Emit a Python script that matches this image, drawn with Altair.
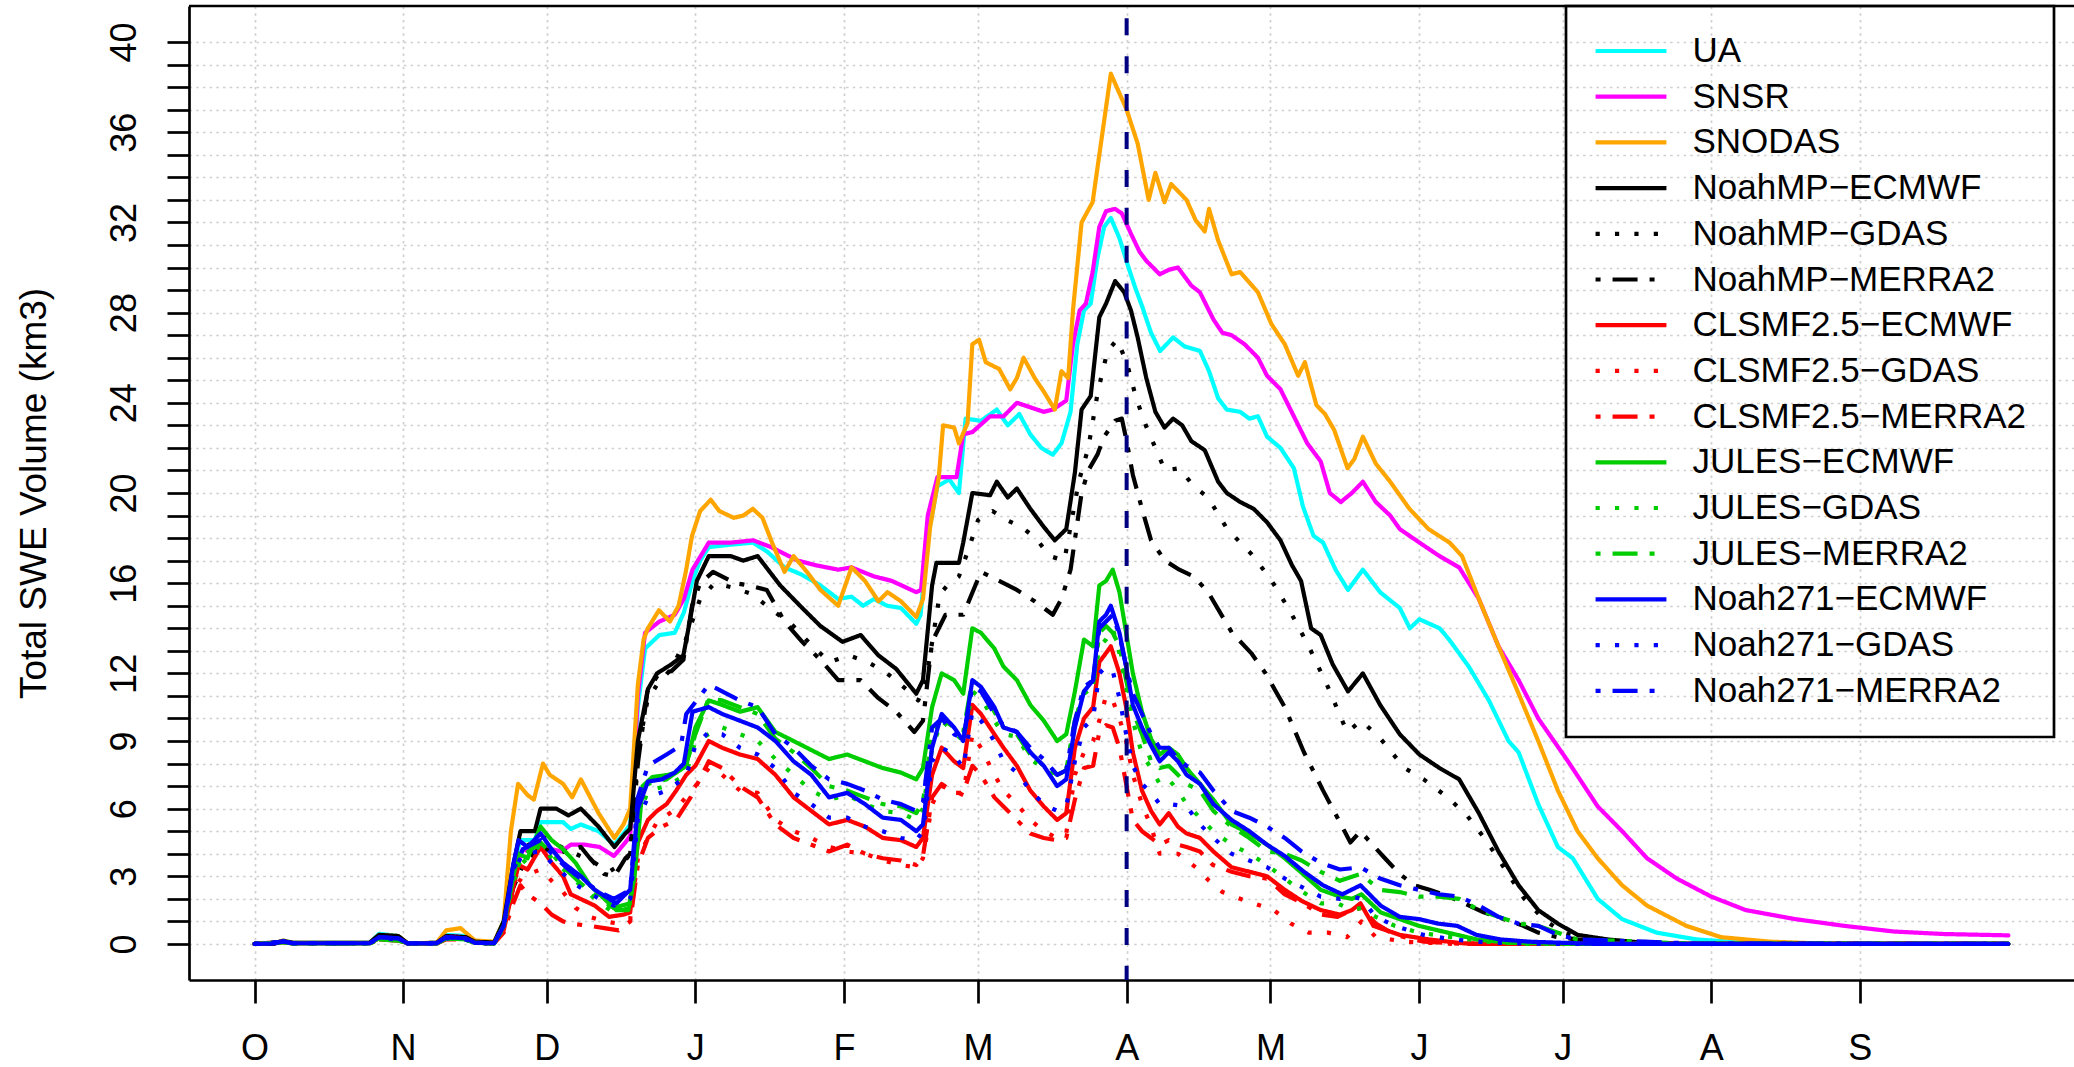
import altair as alt
import pandas as pd

# ---------------- data (day of water year, total SWE volume km3) ----------------
NAMES = ["UA", "SNSR", "SNODAS",
         "NoahMP−ECMWF", "NoahMP−GDAS", "NoahMP−MERRA2",
         "CLSMF2.5−ECMWF", "CLSMF2.5−GDAS", "CLSMF2.5−MERRA2",
         "JULES−ECMWF", "JULES−GDAS", "JULES−MERRA2",
         "Noah271−ECMWF", "Noah271−GDAS", "Noah271−MERRA2"]
COLORS = ["#00FFFF", "#FF00FF", "#FFA500",
          "#000000", "#000000", "#000000",
          "#FF0000", "#FF0000", "#FF0000",
          "#00CD00", "#00CD00", "#00CD00",
          "#0000FF", "#0000FF", "#0000FF"]
SOLID, DOT, DOTDASH = [1, 0], [4.2, 15.2], [5, 12, 25, 12]
DASHES = [SOLID, SOLID, SOLID] + [SOLID, DOT, DOTDASH] * 4

MONTH_DAYS = [0, 31, 61, 92, 123, 151, 182, 212, 243, 273, 304, 335]
MONTH_LABELS = ["O", "N", "D", "J", "F", "M", "A", "M", "J", "J", "A", "S"]
Y_LABELS = [0, 3, 6, 9, 12, 16, 20, 24, 28, 32, 36, 40]
PEAK_DAY = 182

UA = [(0,0),(4,0.02),(6,0.15),(8,0.05),(24,0.05),(26,0.45),(30,0.35),(32,0.02),(38,0.05),(40,0.4),(44,0.35),(46,0.1),(50,0.05),
      (52,1.0),(54,3.5),(55.5,4.6),(58.5,4.6),(59.7,5.4),(64.4,5.4),(66,5.1),(68.1,5.3),(71.8,5.0),(75.1,4.4),(77.4,5.0),(78.4,5.3),
      (80,10.5),(81.5,13.1),(84.5,13.7),(87.7,13.8),(89.6,14.7),(91.4,16.1),(93,17.0),(94.8,17.6),(99,17.7),(104,17.8),(107,17.4),
      (110.6,16.7),(114,16.4),(118.1,15.9),(121.8,15.3),(124.6,15.4),(127,15.0),(129.3,15.3),(132,15.0),(134.9,14.9),(138.1,14.2),(139,14.6),
      (140.5,18.0),(142.5,20.3),(145,20.6),(147,20.0),(148.4,23.3),(151.6,23.2),(154.9,23.7),(157.2,23.0),(159.6,23.5),(161.9,22.6),
      (164.2,22.0),(166.6,21.7),(168.4,22.2),(170.3,23.6),(171.7,26.6),(173.1,28.1),(174.5,28.4),(175.9,30.4),(177.3,31.8),(178.7,32.2),
      (180.5,31.3),(182.4,30.0),(183.8,29.1),(185.2,28.3),(187.1,27.1),(189,26.3),(191.7,26.9),(194.1,26.5),(197.3,26.3),(199.2,25.4),
      (201.1,24.2),(202.9,23.7),(205.7,23.6),(207.6,23.3),(209.4,23.4),(211.3,22.5),(214.1,22.0),(216.9,21.1),(218.8,19.4),(221,18.1),
      (223,17.8),(225.6,16.6),(228.2,15.7),(231.3,16.6),(234.9,15.6),(239,14.9),(241.1,14.0),(243.1,14.4),(247.3,14.0),(249.3,13.5),(253.4,12.3),
      (257.6,10.8),(261.7,9.0),(263.8,8.5),(267.9,6.2),(272,4.3),(275.1,3.8),(280.3,2.0),(285.4,1.1),(292.6,0.5),(300.9,0.2),(311,0.05),(330,0),(366,0)]

SNSR = [(0,0),(4,0.02),(6,0.1),(8,0.03),(24,0.03),(26,0.3),(30,0.25),(32,0.02),(38,0.03),(40,0.35),(44,0.3),(46,0.1),(50,0.05),
        (52,0.8),(54,3.0),(56,4.2),(58.5,4.0),(60,4.3),(64,4.1),(66,4.4),(69,4.4),(72,4.3),(75,3.9),(77.4,4.5),(78.4,4.8),
        (80,11.0),(81.5,13.8),(84.5,14.3),(87.7,14.6),(89.6,15.3),(91.4,16.6),(94.8,17.8),(99.4,17.8),(104.1,17.9),(107.8,17.6),(113.4,17.0),
        (117,16.8),(121.8,16.6),(124.6,16.7),(129.3,16.3),(133,16.1),(138.1,15.6),(139.1,15.7),
        (140.5,19.0),(142.5,20.7),(146.5,20.7),(147.9,22.6),(149.8,22.7),(153.5,23.4),(156.3,23.4),(159.1,24.0),(161.9,23.8),(164.7,23.6),
        (166.6,23.7),(169.4,24.1),(170.8,26.6),(172.2,28.1),(173.5,28.4),(174.9,29.8),(176.3,31.8),(177.7,32.5),(179.6,32.6),(181,32.4),
        (182.9,31.5),(184.7,30.7),(186.1,30.3),(188.9,29.7),(190.8,29.9),(192.7,30.0),(195.5,29.2),(197.3,28.9),(200.1,27.7),(202,27.1),
        (203.9,27.0),(206.6,26.6),(209.4,26.0),(211.3,25.2),(214.1,24.6),(216.9,23.4),(219.7,22.2),(222.5,21.4),(224.4,20.0),(226.7,19.6),
        (229,20.0),(231.3,20.5),(234,19.6),(237,19.0),(239,18.4),(243.1,17.8),(247.3,17.2),(251.4,16.7),(255.5,15.3),(259.6,13.2),
        (263.8,11.7),(267.9,10.0),(274.1,8.1),(280.3,6.1),(285.4,5.0),(290.6,3.8),(296.8,2.9),(304,2.1),(311.2,1.5),(321.5,1.1),
        (331.8,0.8),(342.1,0.55),(352.4,0.44),(366,0.38)]

SNODAS = [(0,0),(4,0.03),(6,0.15),(8,0.05),(24,0.05),(26,0.4),(30,0.35),(32,0.03),(38,0.05),(40,0.6),(43,0.7),(46,0.15),(50,0.1),
          (52,1.0),(53.5,5.0),(55,7.1),(57,6.6),(58.3,6.4),(60.2,8.0),(61.6,7.5),(64.4,7.1),(66.3,6.5),(68.1,7.3),(71.8,5.8),(75.1,4.7),
          (77,5.3),(78.4,6.0),(80,11.5),(81.2,13.5),(82.1,14.0),(84.4,14.8),(86.7,14.3),(88.5,15.0),(90,16.5),(91.3,18.1),(93,19.2),
          (95.2,19.7),(97,19.2),(100,18.9),(102,19.0),(104,19.3),(106,18.9),(108,17.8),(110.6,16.5),(112.5,17.2),(115.3,16.5),(118.1,15.7),
          (121.8,15.0),(124.6,16.7),(127.4,16.1),(130.2,15.2),(132.1,15.6),(134.9,15.2),(138.1,14.5),(139.5,15.3),(141,18.5),(142.8,20.7),
          (143.7,23.0),(146,22.9),(147,22.2),(148.8,23.1),(149.8,26.6),(151.2,26.8),(152.6,25.8),(155.4,25.5),(157.7,24.6),(159.1,25.1),
          (160.5,26.0),(162.8,25.1),(164.7,24.5),(167,23.7),(168.4,25.4),(169.8,25.1),(170.8,28.1),(172.6,32.0),(174.9,32.9),(178.7,38.6),
          (182,37.0),(184.3,35.5),(186.6,33.0),(188,34.2),(189.9,32.9),(191.3,33.7),(194.5,33.0),(196.4,32.1),(198.3,31.6),(199.2,32.6),
          (201.1,31.2),(203.9,29.7),(205.7,29.8),(209.4,28.9),(212.2,27.5),(215,26.6),(217.8,25.2),(219.2,25.8),(221.6,23.9),(223.4,23.5),
          (225.3,22.8),(228.1,21.1),(229.5,21.5),(231.3,22.5),(234,21.3),(237,20.5),(241,19.3),(245,18.4),(249.4,17.8),(252,17.2),
          (255.5,15.3),(259.6,13.2),(263.8,11.1),(267.9,9.0),(272,6.8),(276.1,5.0),(280.3,3.8),(285.4,2.6),(290.6,1.7),(298.8,0.8),
          (306,0.3),(316.3,0.1),(326.6,0.02),(366,0)]

NOAHMP_ECMWF = [(0,0),(4,0.02),(6,0.12),(8,0.05),(24,0.05),(26,0.4),(30,0.35),(32,0.02),(38,0.05),(40,0.35),(44,0.3),(46,0.1),(50,0.05),
                (52,1.0),(54,3.5),(55.5,5.0),(58.5,5.0),(59.7,6.0),(63,6.0),(65.5,5.7),(68.1,6.0),(71.8,5.2),(75.1,4.3),(77.4,4.9),(78.4,5.1),
                (80,9.0),(82.1,11.3),(84,12.0),(87,12.4),(89.5,12.8),(91,14.5),(92.3,16.1),(94.8,17.2),(99.4,17.2),(102,17.0),(105,17.2),
                (109.7,15.9),(114.3,14.9),(118.1,14.1),(122.7,13.4),(126.5,13.7),(130.2,12.8),(133.9,12.2),(138.1,11.1),(139.5,11.7),
                (141.4,15.9),(142.3,16.9),(147,16.9),(147.9,17.8),(149.8,20.0),(153.5,19.9),(154.9,20.5),(157.2,19.8),(159.1,20.2),
                (161.9,19.3),(164.7,18.5),(167,17.9),(169.4,18.4),(171.2,20.9),(172.6,23.7),(174.5,24.3),(176.3,27.8),(177.7,28.4),
                (179.6,29.4),(181.5,28.9),(182.9,28.1),(184.3,26.9),(186.1,25.1),(188,23.6),(189.9,22.9),(191.7,23.3),(193.6,23.0),
                (195.5,22.3),(198.3,21.9),(201.1,20.5),(202.9,20.0),(205.7,19.6),(208.5,19.3),(211.3,18.7),(214.1,17.9),(216.5,16.8),
                (218.4,16.1),(220.5,14.0),(222.5,13.7),(225,12.4),(228.2,11.2),(231.3,12.0),(234.9,10.6),(239,9.3),(243.1,8.4),(247.3,7.8),
                (251.4,7.3),(255.5,5.8),(259.6,4.1),(263.8,2.6),(267.9,1.5),(272,0.9),(276.1,0.4),(282.3,0.2),(290,0.05),(300,0),(366,0)]

NOAHMP_GDAS = [(0,0),(4,0.02),(6,0.1),(8,0.03),(24,0.03),(26,0.3),(30,0.25),(32,0.02),(38,0.03),(40,0.3),(44,0.3),(46,0.1),(50,0.05),
               (52,0.8),(54,3.0),(56,4.2),(59.7,4.8),(63,4.4),(67,4.0),(71,3.6),(74,3.2),(77,3.6),(78.4,4.0),(80,8.5),(82,10.8),(84,11.5),
               (87,12.2),(90,13.5),(93,15.3),(96,16.0),(100,15.8),(104,15.5),(108,14.8),(112,14.2),(116,13.3),(120,12.5),(124,12.8),
               (128,12.5),(132,12.0),(136,11.3),(138.5,10.8),(140,11.5),(141.5,13.5),(143,15.5),(145,16.0),(147,16.3),(149,17.5),
               (151,18.8),(154,19.2),(157,18.8),(160,18.5),(163,18.0),(166,17.2),(169,17.0),(172,20.5),(174,22.0),(176,24.5),(178,26.3),
               (180,26.8),(182,25.8),(184,24.2),(186,23.0),(188,22.0),(190,21.0),(193,21.1),(196,20.3),(199,19.8),(203,18.4),(208,17.3),
               (212,16.2),(216,14.8),(220,13.2),(224,11.4),(228,9.4),(231,9.9),(235,9.1),(240,7.8),(244,7.3),(249,6.5),(253,5.7),
               (257,4.6),(261,3.3),(265,2.0),(269,1.1),(273,0.5),(280,0.1),(290,0),(366,0)]

NOAHMP_MERRA2 = [(0,0),(4,0.02),(6,0.1),(8,0.03),(24,0.03),(26,0.3),(30,0.25),(32,0.02),(38,0.03),(40,0.3),(44,0.3),(46,0.1),(50,0.05),
                 (52,0.7),(54,2.5),(56,3.5),(59.7,4.3),(63,4.0),(68.1,4.3),(70,3.8),(73,3.1),(75.1,3.0),(77.4,3.8),(78.4,4.0),(80,8.0),
                 (82,11.2),(84.4,12.0),(87,12.1),(89.5,12.6),(91.3,15.0),(93,16.0),(95.7,16.5),(100.4,16.0),(103.2,15.9),(106.9,15.7),
                 (110.6,14.3),(114.3,13.4),(118.1,12.6),(121.8,11.7),(126.5,11.7),(130.2,10.9),(133.9,10.3),(137.7,9.4),(139.5,9.9),
                 (141.4,13.4),(144.2,14.6),(147.9,14.6),(151.6,16.5),(155.4,16.1),(159.1,15.7),(162.8,15.2),(166.6,14.6),(168.4,15.3),
                 (170.3,16.6),(172.6,20.0),(174,21.0),(175.9,21.7),(177.3,22.5),(179.6,23.2),(181,23.3),(182,22.3),(183.3,20.8),
                 (185.2,19.3),(187.1,17.9),(190,17.0),(193,16.6),(196,16.3),(199,15.6),(204,13.8),(208,12.9),(211,12.0),(215,10.5),
                 (219,8.5),(223,6.8),(226,5.6),(228.7,4.5),(230.8,5.0),(233.3,4.4),(235.9,3.8),(239,3.1),(242.1,2.6),(245.2,2.4),
                 (249.3,2.1),(252.4,1.8),(256.5,1.4),(260.7,1.1),(264.8,0.8),(267.9,0.5),(272,0.3),(280,0.1),(290,0),(366,0)]

CLSM_ECMWF = [(0,0),(6,0.1),(8,0.03),(24,0.03),(26,0.25),(30,0.2),(32,0.02),(38,0.03),(40,0.3),(44,0.25),(46,0.05),(50,0.03),
              (52,0.6),(54,2.5),(55.1,3.5),(57,3.3),(59.7,4.3),(62,3.6),(64.4,3.0),(66,2.2),(68,2.0),(71,1.7),(74,1.2),(77,1.3),(78.4,1.4),
              (80,4.5),(82.1,5.5),(84,5.9),(86,6.2),(88,6.8),(90.1,7.5),(92,7.9),(94.8,9.0),(97.6,8.7),(101.3,8.4),(105,8.2),(108.7,7.5),
              (112.5,6.5),(116.2,5.9),(119.9,5.3),(123.7,5.5),(127.4,5.2),(131.1,4.7),(134.9,4.6),(138.1,4.3),(139.5,4.7),(141.4,7.5),
              (143.4,8.7),(146,8.1),(147.9,7.8),(149.8,10.6),(151.6,10.2),(154.4,9.3),(156.3,8.7),(159.1,7.9),(161.9,6.8),(164.7,6.1),
              (167.5,5.5),(169.4,5.8),(171.2,8.7),(173.1,10.0),(175,10.5),(176.3,12.5),(177.7,12.9),(178.7,13.2),(180.5,12.0),(181.9,10.5),
              (183.3,8.5),(185.2,6.8),(187.1,5.9),(188.9,5.3),(190.8,5.8),(192.7,5.2),(194.5,4.9),(197.3,4.7),(200.1,4.1),(203.9,3.4),
              (207.6,3.2),(211.3,3.0),(215,2.4),(218.6,1.9),(222.5,1.5),(226.5,1.3),(229,1.5),(230.8,1.8),(233.5,0.8),(239,0.4),(245,0.2),
              (252,0.03),(260,0),(366,0)]

CLSM_GDAS = [(0,0),(6,0.08),(8,0.02),(24,0.02),(26,0.2),(30,0.15),(32,0.02),(38,0.02),(40,0.25),(44,0.2),(46,0.05),(50,0.02),
             (52,0.6),(54,2.4),(56,3.0),(59.7,3.3),(62,2.8),(64.4,2.3),(67,1.6),(70,1.2),(73,1.0),(76,0.9),(78.4,1.1),(80,3.8),(82.1,4.7),
             (84,5.4),(88,6.0),(92,7.0),(94.8,7.8),(97.6,7.5),(101.3,6.8),(105,6.7),(108.7,5.5),(112.5,5.0),(116.2,4.7),(119.9,4.3),
             (123.7,4.1),(127.4,4.0),(131.1,3.7),(134.9,3.5),(138.1,3.4),(139.5,3.8),(141.4,6.2),(143.4,7.0),(146,6.8),(147.9,6.6),
             (149.8,9.3),(151.6,8.7),(154.4,7.5),(156.3,6.8),(159.1,6.2),(161.9,5.5),(164.7,5.0),(167.5,4.7),(169.4,4.9),(171.2,7.5),
             (173.1,8.5),(175,9.0),(176.3,9.9),(177.7,11.0),(179.1,10.8),(180.5,10.0),(181.9,9.0),(183.3,7.5),(185.2,6.2),(187.1,5.2),
             (188.9,4.0),(192.7,4.0),(196.4,3.4),(199.2,2.8),(202,2.3),(205.7,2.0),(212.7,1.5),(216.3,0.9),(220,0.5),(224,0.5),(228,0.3),
             (231,1.0),(234,0.3),(240,0.1),(250,0),(366,0)]

CLSM_MERRA2 = [(0,0),(6,0.08),(8,0.02),(24,0.02),(26,0.2),(30,0.15),(32,0.02),(38,0.02),(40,0.2),(44,0.2),(46,0.05),(50,0.02),
               (52,0.5),(54,1.8),(55.5,2.6),(57,2.2),(59.7,1.8),(62,1.3),(64.4,1.0),(66,0.9),(70,0.8),(73,0.7),(76,0.6),(78.4,1.0),
               (80,3.5),(82.1,4.7),(85,5.2),(88,5.5),(91,6.5),(94.8,8.1),(97.6,7.8),(101.3,7.0),(105,6.5),(108.7,5.3),(112.5,4.7),
               (116.2,4.4),(119.9,4.1),(123.7,4.4),(127.4,4.0),(131.1,3.8),(134.9,3.7),(138.1,3.5),(139.5,3.9),(141.4,6.5),(143.4,7.1),
               (146,6.7),(147.9,6.7),(149.8,7.9),(151.6,7.5),(154.4,6.5),(156.3,6.1),(159.1,5.5),(161.9,4.9),(164.7,4.7),(167.5,4.6),
               (169.4,4.7),(171.2,6.4),(173.1,7.8),(175,7.9),(176.3,9.4),(177.7,9.7),(179.1,9.6),(180.5,8.7),(181.9,7.1),(183.3,5.5),
               (185.2,5.0),(187.1,4.7),(188.9,4.4),(190.8,4.6),(192.7,4.4),(194.5,4.3),(197.3,4.1),(200,3.5),(203.9,3.2),(207.6,3.0),
               (211.3,2.9),(215,2.2),(218.8,1.8),(222.5,1.3),(226,1.2),(229,1.5),(231,1.6),(234,0.9),(238,0.4),(244,0.1),(252,0),(366,0)]

JULES_ECMWF = [(0,0),(6,0.08),(8,0.02),(24,0.02),(26,0.25),(30,0.2),(32,0.02),(38,0.02),(40,0.25),(44,0.2),(46,0.05),(50,0.02),
               (52,0.8),(54,3.0),(55.1,4.0),(57,3.8),(59.7,5.2),(62,4.6),(64.4,4.2),(67,3.6),(70,2.6),(73,2.0),(75.5,1.5),(78,1.5),
               (79.3,3.0),(81,7.0),(83,7.4),(86.4,7.5),(88,7.6),(90.1,7.9),(92,9.6),(94.8,10.8),(97.6,10.6),(101.3,10.3),(105,10.5),
               (108.7,9.4),(112.5,9.0),(116.2,8.6),(119.9,8.2),(123.7,8.4),(127.4,8.1),(131.1,7.8),(134.9,7.6),(138.1,7.3),(139.5,7.8),
               (141.4,10.5),(143.4,12.0),(146,11.7),(147.9,11.1),(149.8,14.0),(151.6,13.8),(154.4,13.1),(156.3,12.3),(159.1,11.7),
               (161.9,10.6),(164.7,9.9),(167.5,9.0),(169.4,9.3),(171.2,11.2),(173.1,13.5),(175,13.2),(176.3,15.9),(177.7,16.1),(179.1,16.6),
               (180.5,15.6),(181.9,13.8),(183.3,12.0),(185.2,10.3),(187.1,9.1),(188.9,8.4),(190.8,8.7),(192.7,8.4),(194.5,7.8),(197.3,7.1),
               (200.1,6.4),(203.9,5.3),(207.6,4.9),(211.3,4.4),(215,3.8),(218.8,3.1),(222.5,2.4),(226.5,2.1),(229,2.0),(231,2.2),(235,1.4),
               (239,1.1),(243,0.8),(249,0.5),(255,0.2),(262,0.05),(275,0),(366,0)]

JULES_GDAS = [(0,0),(6,0.08),(8,0.02),(24,0.02),(26,0.2),(30,0.15),(32,0.02),(38,0.02),(40,0.25),(44,0.2),(46,0.05),(50,0.02),
              (52,0.7),(54,2.8),(56,3.6),(59.7,4.4),(62,3.8),(65,3.2),(68,2.6),(72,1.8),(75,1.4),(78.4,1.6),(80,5.5),(82.1,6.8),(86,7.0),
              (90,7.5),(92,9.0),(94.8,9.3),(97.6,9.6),(101.3,9.3),(105,9.0),(108.7,8.2),(112.5,7.5),(116.2,6.8),(119.9,6.4),(123.7,6.6),
              (127.4,6.2),(131.1,5.9),(134.9,5.8),(138.1,5.5),(139.5,6.0),(141.4,8.7),(143.4,9.9),(146,9.4),(147.9,9.0),(149.8,11.2),
              (151.6,10.9),(154.4,9.9),(156.3,9.3),(159.1,9.2),(161.9,8.2),(164.7,7.8),(167.5,7.5),(169.4,7.7),(171.2,9.9),(173.1,11.1),
              (175,11.4),(176.3,13.2),(177.7,13.5),(179.1,14.0),(180.5,12.9),(181.9,11.4),(183.3,9.9),(185.2,8.4),(187.1,7.8),(188.9,7.1),
              (190.8,7.3),(192.7,6.8),(194.5,6.2),(197.3,5.6),(200.1,5.0),(203.9,4.4),(207.6,4.0),(211.3,3.5),(215,2.9),(218.8,2.3),
              (222.5,1.8),(226,1.8),(229,1.5),(231,1.6),(234,1.2),(238,0.8),(243,0.5),(250,0.3),(257,0.1),(265,0),(366,0)]

JULES_MERRA2 = [(0,0),(6,0.08),(8,0.02),(24,0.02),(26,0.2),(30,0.15),(32,0.02),(38,0.02),(40,0.25),(44,0.2),(46,0.05),(50,0.02),
                (52,0.8),(54,3.0),(56,3.9),(59.7,4.5),(62,4.0),(65,3.3),(68,2.7),(72,2.0),(75,1.6),(78.4,1.8),(80,6.0),(82.1,7.1),(86,7.3),
                (90,7.9),(92,9.3),(94.8,10.9),(97.6,10.8),(101.3,10.5),(105,10.2),(108.7,9.1),(112.5,8.5),(116.2,7.8),(119.9,7.0),
                (123.7,6.8),(127.4,6.5),(131.1,6.2),(134.9,6.1),(138.1,5.8),(139.5,6.3),(141.4,9.3),(143.4,10.0),(146,9.6),(147.9,9.4),
                (149.8,11.7),(151.6,11.4),(154.4,10.3),(156.3,9.6),(159.1,9.3),(161.9,8.4),(164.7,7.9),(167.5,7.5),(169.4,7.7),(171.2,9.9),
                (173.1,11.2),(175,11.5),(176.3,13.8),(177.7,14.1),(179.1,13.8),(180.5,13.2),(181.9,11.7),(183.3,10.3),(185.2,9.3),
                (187.1,8.1),(188.9,7.8),(190.8,7.9),(192.7,7.5),(194.5,7.1),(197.3,6.8),(200.1,5.9),(203.9,5.2),(207.6,4.7),(211.3,4.1),
                (215,4.0),(218.5,3.7),(222.5,3.2),(226.5,2.8),(230.8,3.1),(234.9,2.4),(239,2.3),(243,2.1),(247,2.1),(251.4,2.0),(255.5,1.5),
                (259.6,1.2),(263.8,0.9),(267.9,0.8),(272,0.5),(276,0.2),(283,0.15),(291,0.08),(300,0.02),(366,0)]

NOAH271_ECMWF = [(0,0),(4,0.02),(6,0.12),(8,0.03),(24,0.03),(26,0.3),(30,0.25),(32,0.02),(38,0.03),(40,0.3),(44,0.25),(46,0.05),(50,0.03),
                 (52,0.8),(54,3.5),(55.1,4.6),(57,4.3),(59.7,4.9),(62,4.2),(64.4,3.6),(68.1,3.0),(71,2.4),(74,2.0),(75.5,1.8),(77.4,2.2),
                 (78.4,2.4),(80,6.0),(82.1,7.2),(85,7.3),(87.7,7.6),(89.6,8.0),(91.4,10.3),(94.8,10.5),(97.6,10.2),(101.3,9.9),(105,9.6),
                 (108.7,9.0),(112.5,8.1),(116.2,7.5),(119.9,6.5),(123.7,6.7),(127.4,6.2),(131.1,5.6),(134.9,5.5),(138.1,5.0),(139.5,5.3),
                 (141.4,8.7),(143.4,10.2),(146,9.6),(147.9,9.0),(149.8,11.7),(151.6,11.4),(154.4,10.5),(156.3,9.6),(159.1,9.4),(161.9,8.5),
                 (164.7,7.9),(167.5,7.0),(169.4,7.3),(171.2,9.6),(173.1,11.2),(175,11.7),(176.3,14.3),(177.7,14.6),(178.7,15.0),(180.5,13.8),
                 (181.9,12.3),(183.3,10.6),(185.2,9.6),(187.1,8.8),(188.9,8.1),(190.8,8.5),(192.7,8.1),(194.5,7.5),(197.3,7.1),(200.1,6.2),
                 (203.9,5.5),(207.6,5.0),(211.3,4.4),(215,3.9),(219,3.2),(223,2.6),(227,2.2),(230.8,2.6),(235,1.7),(239,1.2),(243,1.1),
                 (247,0.9),(251,0.8),(255,0.4),(260,0.2),(266,0.1),(280,0),(366,0)]

NOAH271_GDAS = [(0,0),(6,0.1),(8,0.03),(24,0.03),(26,0.25),(30,0.2),(32,0.02),(38,0.03),(40,0.25),(44,0.2),(46,0.05),(50,0.02),
                (52,0.8),(54,3.2),(56,4.0),(59.7,4.1),(62,3.6),(65,3.0),(68,2.5),(72,2.0),(75,1.7),(78.4,2.0),(80,5.5),(82.1,6.5),(86,6.8),
                (90,7.4),(92,8.8),(94.8,9.4),(97.6,9.3),(101.3,8.7),(105,8.4),(108.7,7.8),(112.5,6.7),(116.2,6.2),(119.9,5.6),(123.7,5.6),
                (127.4,5.2),(131.1,5.0),(134.9,4.7),(138.1,4.6),(139.5,5.0),(141.4,8.1),(143.4,8.7),(146,8.4),(147.9,7.8),(149.8,10.3),
                (151.6,9.9),(154.4,9.0),(156.3,8.1),(159.1,7.6),(161.9,6.8),(164.7,6.2),(167.5,5.9),(169.4,6.1),(171.2,8.1),(173.1,9.6),
                (175,10.0),(176.3,12.0),(177.7,12.3),(179.1,12.1),(180.5,10.9),(181.9,9.3),(183.3,7.9),(185.2,7.1),(187.1,6.7),(188.9,6.2),
                (191,6.2),(194.5,6.1),(197.3,5.3),(200.1,4.7),(203.9,4.0),(207.6,3.7),(211.3,3.4),(215,2.9),(218.8,2.5),(222.5,2.1),
                (226.5,2.0),(229,2.1),(231,2.0),(234,1.2),(238,0.8),(244,0.4),(250,0.2),(258,0.05),(270,0),(366,0)]

NOAH271_MERRA2 = [(0,0),(6,0.1),(8,0.03),(24,0.03),(26,0.3),(30,0.25),(32,0.02),(38,0.03),(40,0.3),(44,0.25),(46,0.05),(50,0.03),
                  (52,0.8),(54,3.3),(56,4.2),(59.7,4.6),(62,4.0),(65,3.4),(68,2.9),(72,2.3),(75,2.0),(78.4,2.4),(80,6.5),(82.1,7.9),(86,8.4),
                  (89,8.8),(90.1,10.2),(94.8,11.5),(98.5,11.1),(101.3,10.8),(105,10.5),(108.7,9.3),(112.5,8.7),(116.2,7.9),(119.9,7.3),
                  (123.7,7.1),(127.4,6.8),(131.1,6.4),(134.9,6.2),(138.1,5.9),(139.5,6.3),(141.4,9.6),(143.4,10.0),(146,9.3),(147.9,9.1),
                  (149.8,11.4),(151.6,11.2),(154.4,10.2),(156.3,9.7),(159.1,9.4),(161.9,8.7),(164.7,8.2),(167.5,7.5),(169.4,7.7),(171.2,9.9),
                  (173.1,11.4),(175,11.7),(176.3,14.0),(177.7,14.3),(179.1,14.6),(180.5,13.7),(181.9,12.3),(183.3,11.1),(185.2,10.2),
                  (187.1,9.3),(188.9,8.7),(190.8,8.7),(192.7,8.2),(194.5,7.9),(197.3,7.6),(200.1,6.8),(203.9,5.9),(207.6,5.6),(211.3,5.2),
                  (215,4.7),(218.5,4.1),(222.5,3.6),(226.5,3.3),(230.8,3.4),(234.9,2.9),(239,2.6),(243,2.4),(247.3,2.2),(251.4,2.1),
                  (255.5,1.7),(259.6,1.2),(263.8,0.9),(267.9,0.8),(272,0.4),(276,0.2),(290,0.1),(300,0.02),(366,0)]

SERIES_DATA = [UA, SNSR, SNODAS, NOAHMP_ECMWF, NOAHMP_GDAS, NOAHMP_MERRA2,
               CLSM_ECMWF, CLSM_GDAS, CLSM_MERRA2, JULES_ECMWF, JULES_GDAS, JULES_MERRA2,
               NOAH271_ECMWF, NOAH271_GDAS, NOAH271_MERRA2]

# ---------------- layout ----------------
W, H = 1885, 974
FONT = "Liberation Sans"
X_DOMAIN = [-13.67, 379.7]
Y_DOMAIN = [-1.6, 41.6]

month_expr = "{" + ",".join(f"'{d}':'{l}'" for d, l in zip(MONTH_DAYS, MONTH_LABELS)) + "}[datum.value + '']"
ylab_expr = "indexof([" + ",".join(str(v) for v in Y_LABELS) + "], datum.value) >= 0 ? datum.label : ''"

x_enc = alt.X("day:Q", scale=alt.Scale(domain=X_DOMAIN, nice=False, zero=False),
              axis=alt.Axis(values=MONTH_DAYS, labelExpr=month_expr, title=None, tickSize=23,
                            labelPadding=56, labelBaseline="alphabetic", labelAngle=0,
                            labelFlush=False, labelOverlap=False))
y_enc = alt.Y("swe:Q", scale=alt.Scale(domain=Y_DOMAIN, nice=False, zero=False),
              axis=alt.Axis(values=list(range(0, 41)), labelExpr=ylab_expr, title="Total SWE Volume (km3)",
                            tickSize=22, labelPadding=32, labelAngle=270, labelAlign="center",
                            labelBaseline="alphabetic", labelOverlap=False, labelFlush=False,
                            titleAngle=270, titleX=-144, titleY=487, titleAlign="center",
                            titleBaseline="alphabetic"))

legend = alt.Legend(title=None, orient="none", legendX=1377, legendY=0,
                    symbolType="M-3.5,0L3.5,0", symbolSize=410, symbolStrokeWidth=4.2,
                    symbolOffset=20, labelOffset=44, labelFontSize=35, labelFont=FONT,
                    labelColor="black", labelLimit=1000, padding=27.5, rowPadding=9.7,
                    strokeColor="black")

color_enc = alt.Color("series:N", scale=alt.Scale(domain=NAMES, range=COLORS), legend=legend)
dash_enc = alt.StrokeDash("series:N", scale=alt.Scale(domain=NAMES, range=DASHES), legend=legend)

layers = []
for name, pts, dash in zip(NAMES, SERIES_DATA, DASHES):
    df = pd.DataFrame(pts, columns=["day", "swe"])
    df["series"] = name
    cap = "round" if dash == SOLID else "butt"
    layers.append(
        alt.Chart(df).mark_line(strokeWidth=4.2, strokeCap=cap, strokeJoin="round")
        .encode(x=x_enc, y=y_enc, color=color_enc, strokeDash=dash_enc)
    )

peak = alt.Chart(pd.DataFrame({"day": [PEAK_DAY]})).mark_rule(
    color="#000080", strokeWidth=4, strokeDash=[17, 20.9], strokeDashOffset=25.6, strokeCap="butt"
).encode(x=alt.X("day:Q"), y=alt.value(0), y2=alt.value(H))

top_border = alt.Chart(pd.DataFrame({"a": [0]})).mark_rule(color="black", strokeWidth=2.7).encode(
    x=alt.value(0), x2=alt.value(W), y=alt.value(0))

chart = alt.layer(*layers, peak, top_border).properties(
    width=W, height=H,
    autosize=alt.AutoSizeParams(type="none"),
    padding={"left": 189, "top": 6, "right": 0, "bottom": 87},
).configure_view(stroke=None).configure_axis(
    domainColor="black", domainWidth=2.7, tickColor="black", tickWidth=2.7,
    labelColor="black", labelFont=FONT, labelFontSize=36,
    titleColor="black", titleFont=FONT, titleFontSize=37, titleFontWeight="normal",
    grid=True, gridColor="#cfcfcf", gridDash=[2.5, 4.2], gridWidth=1.7,
).configure_legend(strokeWidth=2.7)

chart.save("out.html", embed_options={"renderer": "svg", "actions": False})
